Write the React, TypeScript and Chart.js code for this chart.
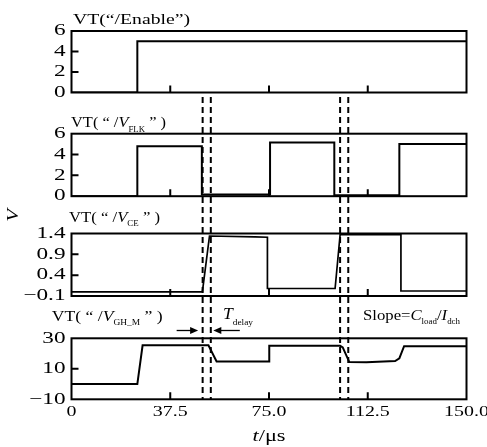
import { useEffect, useRef } from "react";
import { Chart, registerables } from "chart.js";

Chart.register(...registerables);

// Shared time axis (µs)
const T_MIN = 0;
const T_MAX = 150;
const X_TICKS = [0, 37.5, 75, 112.5, 150];
const X_TICK_LABELS = ["0", "37.5", "75.0", "112.5", "150.0"];

// Delay markers (dashed verticals), µs
const DELAY_MARKS = [49.8, 52.9, 102.0, 105.1];

// VT("/Enable")
const ENABLE_T = [0, 25.0, 25.0, 150];
const ENABLE_V = [0, 0, 5.0, 5.0];
const ENABLE_TICKS = [0, 2, 4, 6];
const ENABLE_TICK_LABELS = ["0", "2", "4", "6"];

// VT("/V_FLK")
const FLK_T = [0, 25.0, 25.0, 49.5, 49.5, 75.4, 75.4, 99.8, 99.8, 124.5, 124.5, 150];
const FLK_V = [0, 0, 4.8, 4.8, 0.17, 0.17, 5.15, 5.15, 0.1, 0.1, 5.0, 5.0];
const FLK_TICKS = [0, 2, 4, 6];
const FLK_TICK_LABELS = ["0", "2", "4", "6"];

// VT("/V_CE")
const CE_T = [0, 49.7, 52.4, 69.7, 74.4, 74.4, 100.1, 102.0, 125.1, 125.1, 150];
const CE_V = [0.0, 0.0, 1.34, 1.32, 1.31, 0.08, 0.08, 1.37, 1.37, 0.02, 0.02];
const CE_TICKS = [-0.1, 0.4, 0.9, 1.4];
const CE_TICK_LABELS = ["\u22120.1", "0.4", "0.9", "1.4"];

// VT("/V_GH_M")
const GH_T = [0, 25.0, 27.0, 52.0, 55.1, 75.1, 75.1, 102.0, 103.0, 105.5, 112.0, 122.9, 124.5, 126.3, 150];
const GH_V = [0, 0, 25.4, 25.4, 14.8, 14.8, 25.1, 25.1, 24.0, 14.4, 14.3, 15.1, 16.8, 24.8, 24.8];
const GH_TICKS = [-10, 10, 30];
const GH_TICK_LABELS = ["\u221210", "10", "30"];

const SERIF = '"Liberation Serif", "Times New Roman", serif';
const W = 487;
const AXIS_LEFT = 71.5;
const PAD_RIGHT = 20.5;
const DASH_TOP = 97;
const DASH_BOTTOM = 399.3;

type Run = { text: string; italic?: boolean; sub?: boolean };

function runFont(r: Run, size: number, subSize: number) {
  return `${r.italic ? "italic " : ""}${r.sub ? subSize : size}px ${SERIF}`;
}

function drawRuns(
  ctx: CanvasRenderingContext2D,
  runs: Run[],
  x: number,
  y: number,
  size: number,
  subSize: number,
  subDrop: number,
  width: number,
  align: "left" | "center" = "left"
) {
  ctx.save();
  ctx.textBaseline = "alphabetic";
  ctx.textAlign = "left";
  let natural = 0;
  for (const r of runs) {
    ctx.font = runFont(r, size, subSize);
    natural += ctx.measureText(r.text).width;
  }
  const sx = width / natural;
  const startX = align === "center" ? x - width / 2 : x;
  ctx.translate(startX, y);
  ctx.scale(sx, 1);
  let cx = 0;
  for (const r of runs) {
    ctx.font = runFont(r, size, subSize);
    ctx.fillText(r.text, cx, r.sub ? subDrop : 0);
    cx += ctx.measureText(r.text).width;
  }
  ctx.restore();
}

function drawStretched(
  ctx: CanvasRenderingContext2D,
  text: string,
  x: number,
  y: number,
  size: number,
  sx: number,
  align: CanvasTextAlign,
  baseline: CanvasTextBaseline
) {
  ctx.save();
  ctx.translate(x, y);
  ctx.scale(sx, 1);
  ctx.font = `${size}px ${SERIF}`;
  ctx.textAlign = align;
  ctx.textBaseline = baseline;
  ctx.fillText(text, 0, 0);
  ctx.restore();
}

function drawArrow(ctx: CanvasRenderingContext2D, fromX: number, tipX: number, y: number) {
  const dir = Math.sign(tipX - fromX);
  ctx.beginPath();
  ctx.lineWidth = 1.3;
  ctx.moveTo(fromX, y);
  ctx.lineTo(tipX - dir * 6, y);
  ctx.stroke();
  ctx.beginPath();
  ctx.moveTo(tipX, y);
  ctx.lineTo(tipX - dir * 8, y - 3.5);
  ctx.lineTo(tipX - dir * 8, y + 3.5);
  ctx.closePath();
  ctx.fill();
}

type PanelSpec = {
  top: number;
  height: number;
  areaTop: number;
  areaBottom: number;
  t: number[];
  v: number[];
  min: number;
  max: number;
  ticks: number[];
  tickLabels: string[];
  lineWidth: number;
  extra: (ctx: CanvasRenderingContext2D, chart: Chart) => void;
};

function makeChart(canvas: HTMLCanvasElement, p: PanelSpec) {
  const decor = {
    id: "panelDecor",
    afterDraw(chart: Chart) {
      const ctx = chart.ctx;
      const a = chart.chartArea;
      const xs: any = chart.scales.x;
      const ys: any = chart.scales.y;
      ctx.save();
      ctx.strokeStyle = "#000";
      ctx.fillStyle = "#000";

      // frame
      ctx.lineWidth = 2;
      ctx.strokeRect(a.left, a.top, a.right - a.left, a.bottom - a.top);

      // inward tick marks
      ctx.beginPath();
      xs.ticks.forEach((tk: any) => {
        if (tk.value > xs.min && tk.value < xs.max) {
          const px = xs.getPixelForValue(tk.value);
          ctx.moveTo(px, a.bottom);
          ctx.lineTo(px, a.bottom - 7);
        }
      });
      ys.ticks.forEach((tk: any) => {
        if (tk.value > ys.min && tk.value < ys.max) {
          const py = ys.getPixelForValue(tk.value);
          ctx.moveTo(a.left, py);
          ctx.lineTo(a.left + 7, py);
        }
      });
      ctx.stroke();

      // y tick labels
      ys.ticks.forEach((tk: any, i: number) => {
        drawStretched(ctx, p.tickLabels[i], 65.5, ys.getPixelForValue(tk.value), 16, 1.45, "right", "middle");
      });

      // dashed delay markers, continuous across panels
      const y0 = Math.max(DASH_TOP - p.top, 0);
      const y1 = Math.min(DASH_BOTTOM - p.top, p.height);
      if (y1 > y0) {
        ctx.save();
        ctx.lineWidth = 2;
        ctx.setLineDash([6, 4]);
        ctx.lineDashOffset = p.top + y0 - DASH_TOP;
        DELAY_MARKS.forEach((m) => {
          const px = xs.getPixelForValue(m);
          ctx.beginPath();
          ctx.moveTo(px, y0);
          ctx.lineTo(px, y1);
          ctx.stroke();
        });
        ctx.restore();
      }

      // annotations in page coordinates
      ctx.save();
      ctx.translate(0, -p.top);
      p.extra(ctx, chart);
      ctx.restore();

      ctx.restore();
    },
  };

  return new Chart(canvas, {
    type: "line",
    data: {
      datasets: [
        {
          data: p.t.map((x, i) => ({ x, y: p.v[i] })),
          borderColor: "#000",
          borderWidth: p.lineWidth,
          pointRadius: 0,
          tension: 0,
          fill: false,
        },
      ],
    },
    options: {
      animation: false,
      responsive: false,
      devicePixelRatio: 1,
      events: [],
      layout: { padding: { top: p.areaTop - p.top, right: PAD_RIGHT, left: 0, bottom: 0 } },
      plugins: { legend: { display: false }, tooltip: { enabled: false } },
      scales: {
        x: {
          type: "linear",
          min: T_MIN,
          max: T_MAX,
          grid: { display: false },
          border: { display: false },
          ticks: { display: false },
          afterBuildTicks: (s: any) => {
            s.ticks = X_TICKS.map((value) => ({ value }));
          },
          afterFit: (s: any) => {
            s.height = p.top + p.height - p.areaBottom;
          },
        },
        y: {
          type: "linear",
          min: p.min,
          max: p.max,
          grid: { display: false },
          border: { display: false },
          ticks: { display: false },
          afterBuildTicks: (s: any) => {
            s.ticks = p.ticks.map((value) => ({ value }));
          },
          afterFit: (s: any) => {
            s.width = AXIS_LEFT;
            s.paddingTop = 0;
            s.paddingBottom = 0;
          },
        },
      },
    } as any,
    plugins: [decor],
  });
}

export default function App() {
  const r1 = useRef<HTMLCanvasElement>(null);
  const r2 = useRef<HTMLCanvasElement>(null);
  const r3 = useRef<HTMLCanvasElement>(null);
  const r4 = useRef<HTMLCanvasElement>(null);

  const panels: PanelSpec[] = [
    {
      top: 0, height: 105, areaTop: 31, areaBottom: 92.5,
      t: ENABLE_T, v: ENABLE_V, min: 0, max: 6, ticks: ENABLE_TICKS, tickLabels: ENABLE_TICK_LABELS,
      lineWidth: 2,
      extra: (ctx) => {
        drawRuns(ctx, [{ text: "VT(\u201C/Enable\u201D)" }], 73, 23.5, 15, 8, 4, 117);
      },
    },
    {
      top: 105, height: 100, areaTop: 133.7, areaBottom: 196.2,
      t: FLK_T, v: FLK_V, min: 0, max: 6, ticks: FLK_TICKS, tickLabels: FLK_TICK_LABELS,
      lineWidth: 2,
      extra: (ctx) => {
        drawRuns(
          ctx,
          [{ text: "VT( \u201C /" }, { text: "V", italic: true }, { text: "FLK", sub: true }, { text: " \u201D )" }],
          71, 126.5, 15, 8, 5, 95
        );
      },
    },
    {
      top: 205, height: 100, areaTop: 233.5, areaBottom: 296,
      t: CE_T, v: CE_V, min: -0.1, max: 1.4, ticks: CE_TICKS, tickLabels: CE_TICK_LABELS,
      lineWidth: 1.7,
      extra: (ctx) => {
        drawRuns(
          ctx,
          [{ text: "VT( \u201C /" }, { text: "V", italic: true }, { text: "CE", sub: true }, { text: " \u201D )" }],
          69, 222, 15, 8, 4, 91
        );
        // y-axis quantity
        ctx.save();
        ctx.translate(14, 215.5);
        ctx.rotate(-Math.PI / 2);
        ctx.scale(1.3, 1);
        ctx.font = `italic 16px ${SERIF}`;
        ctx.textAlign = "center";
        ctx.textBaseline = "middle";
        ctx.fillText("V", 0, 0);
        ctx.restore();
      },
    },
    {
      top: 305, height: 142, areaTop: 338.3, areaBottom: 399.3,
      t: GH_T, v: GH_V, min: -10, max: 30, ticks: GH_TICKS, tickLabels: GH_TICK_LABELS,
      lineWidth: 2,
      extra: (ctx, chart) => {
        const xs: any = chart.scales.x;
        drawRuns(
          ctx,
          [{ text: "VT( \u201C /" }, { text: "V", italic: true }, { text: "GH_M", sub: true }, { text: " \u201D )" }],
          51.7, 321, 15, 8, 4, 111
        );
        // delay annotation between the first pair of markers
        const d1 = xs.getPixelForValue(DELAY_MARKS[0]);
        const d2 = xs.getPixelForValue(DELAY_MARKS[1]);
        drawArrow(ctx, d1 - 26, d1 - 4.5, 330.5);
        drawArrow(ctx, d2 + 29, d2 + 2.5, 330.5);
        drawRuns(ctx, [{ text: "T", italic: true }, { text: "delay", sub: true }], 223, 318.5, 17, 9, 6, 30);
        drawRuns(
          ctx,
          [
            { text: "Slope=" },
            { text: "C", italic: true },
            { text: "load", sub: true },
            { text: "/" },
            { text: "I", italic: true },
            { text: "dch", sub: true },
          ],
          363, 319.5, 15, 8, 4, 97
        );
        // x tick labels
        xs.ticks.forEach((tk: any, i: number) => {
          drawStretched(ctx, X_TICK_LABELS[i], xs.getPixelForValue(tk.value), 415.5, 15, 1.33, "center", "alphabetic");
        });
        // x-axis title
        drawRuns(ctx, [{ text: "t", italic: true }, { text: "/\u03BCs" }], xs.getPixelForValue(75), 440.5, 16, 8, 4, 33, "center");
      },
    },
  ];

  useEffect(() => {
    const refs = [r1, r2, r3, r4];
    const charts = refs.map((r, i) => makeChart(r.current as HTMLCanvasElement, panels[i]));
    return () => charts.forEach((c) => c.destroy());
  }, []);

  const refs = [r1, r2, r3, r4];
  return (
    <div
      style={{
        position: "absolute",
        left: 0,
        top: 0,
        width: W,
        height: 447,
        background: "#fff",
        overflow: "hidden",
      }}
    >
      {panels.map((p, i) => (
        <canvas
          key={i}
          ref={refs[i]}
          width={W}
          height={p.height}
          style={{ position: "absolute", left: 0, top: p.top, display: "block" }}
        />
      ))}
    </div>
  );
}
